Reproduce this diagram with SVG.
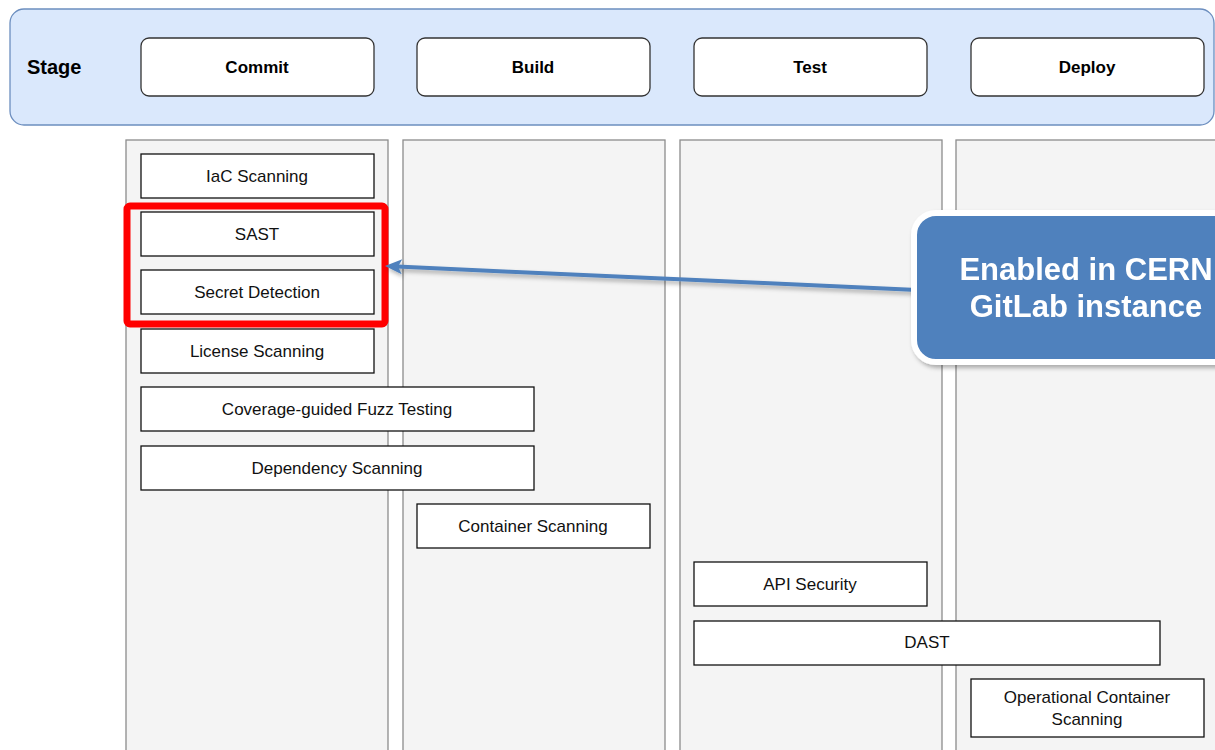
<svg xmlns="http://www.w3.org/2000/svg" width="1215" height="750" viewBox="0 0 1215 750">
  <defs>
    <style>
      text { font-family: "Liberation Sans", Arial, sans-serif; fill: #000; }
      .lane { fill: #f4f4f4; stroke: #8c8c8c; stroke-width: 1.3; }
      .stage { fill: #fff; stroke: #333; stroke-width: 1.3; }
      .item { fill: #fff; stroke: #111; stroke-width: 1.3; }
      .stage-label { font-size: 17px; font-weight: bold; text-anchor: middle; }
      .item-label { font-size: 17px; text-anchor: middle; fill: #111; }
      .callout-label { font-size: 31px; font-weight: bold; fill: #fff; text-anchor: middle; }
    </style>
    <filter id="shadow" x="-10%" y="-10%" width="130%" height="140%">
      <feDropShadow dx="2" dy="3" stdDeviation="2" flood-color="#000" flood-opacity="0.3"/>
    </filter>
    <filter id="line-shadow" filterUnits="userSpaceOnUse" x="0" y="0" width="1215" height="750">
      <feDropShadow dx="2" dy="3" stdDeviation="2" flood-color="#000" flood-opacity="0.3"/>
    </filter>
  </defs>

  <rect width="1215" height="750" fill="#fff"/>

  <!-- stage header band -->
  <g id="stage-header">
    <rect x="10" y="9" width="1204" height="116" rx="14" fill="#dae8fc" stroke="#6c8ebf" stroke-width="1.3"/>
    <text x="27" y="74" font-size="20" font-weight="bold">Stage</text>
  </g>
  <g id="stage-commit">
    <rect class="stage" x="141" y="38" width="233" height="58" rx="8"/>
    <text class="stage-label" x="257" y="73">Commit</text>
  </g>
  <g id="stage-build">
    <rect class="stage" x="417" y="38" width="233" height="58" rx="8"/>
    <text class="stage-label" x="533" y="73">Build</text>
  </g>
  <g id="stage-test">
    <rect class="stage" x="694" y="38" width="233" height="58" rx="8"/>
    <text class="stage-label" x="810" y="73">Test</text>
  </g>
  <g id="stage-deploy">
    <rect class="stage" x="971" y="38" width="233" height="58" rx="8"/>
    <text class="stage-label" x="1087" y="73">Deploy</text>
  </g>

  <!-- swimlanes -->
  <g id="lanes">
    <rect class="lane" x="126" y="140" width="262" height="640"/>
    <rect class="lane" x="403" y="140" width="262" height="640"/>
    <rect class="lane" x="680" y="140" width="262" height="640"/>
    <rect class="lane" x="956" y="140" width="280" height="640"/>
  </g>

  <!-- scan jobs -->
  <g id="iac-scanning">
    <rect class="item" x="141" y="154" width="233" height="44"/>
    <text class="item-label" x="257" y="182">IaC Scanning</text>
  </g>
  <g id="sast">
    <rect class="item" x="141" y="212" width="233" height="44"/>
    <text class="item-label" x="257" y="240">SAST</text>
  </g>
  <g id="secret-detection">
    <rect class="item" x="141" y="270" width="233" height="44"/>
    <text class="item-label" x="257" y="298">Secret Detection</text>
  </g>
  <g id="license-scanning">
    <rect class="item" x="141" y="329" width="233" height="44"/>
    <text class="item-label" x="257" y="357">License Scanning</text>
  </g>
  <g id="fuzz-testing">
    <rect class="item" x="141" y="387" width="393" height="44"/>
    <text class="item-label" x="337" y="415">Coverage-guided Fuzz Testing</text>
  </g>
  <g id="dependency-scanning">
    <rect class="item" x="141" y="446" width="393" height="44"/>
    <text class="item-label" x="337" y="474">Dependency Scanning</text>
  </g>
  <g id="container-scanning">
    <rect class="item" x="417" y="504" width="233" height="44"/>
    <text class="item-label" x="533" y="532">Container Scanning</text>
  </g>
  <g id="api-security">
    <rect class="item" x="694" y="562" width="233" height="44"/>
    <text class="item-label" x="810" y="590">API Security</text>
  </g>
  <g id="dast">
    <rect class="item" x="694" y="621" width="466" height="44"/>
    <text class="item-label" x="927" y="648">DAST</text>
  </g>
  <g id="operational-container-scanning">
    <rect class="item" x="971" y="679" width="233" height="58"/>
    <text class="item-label" x="1087" y="703">Operational Container</text>
    <text class="item-label" x="1087" y="725">Scanning</text>
  </g>

  <!-- highlight around the enabled jobs -->
  <g id="highlight">
    <rect x="127" y="206" width="258" height="118" rx="3" fill="none" stroke="#ff0000" stroke-width="7"/>
  </g>

  <!-- connector from the callout to the highlight, with its head drawn as a polygon -->
  <g id="connectors" filter="url(#line-shadow)">
    <line x1="917" y1="290" x2="397" y2="266.6" stroke="#4f81bd" stroke-width="4"/>
    <polygon points="385,266 402.3,259.3 398,266.6 401.7,274.3" fill="#4f81bd"/>
  </g>

  <!-- callout -->
  <g id="callout" filter="url(#shadow)">
    <rect x="914" y="213" width="340" height="149" rx="22" fill="#4f81bd" stroke="#fff" stroke-width="6"/>
    <text class="callout-label" x="1086" y="280">Enabled in CERN</text>
    <text class="callout-label" x="1086" y="317">GitLab instance</text>
  </g>
</svg>
